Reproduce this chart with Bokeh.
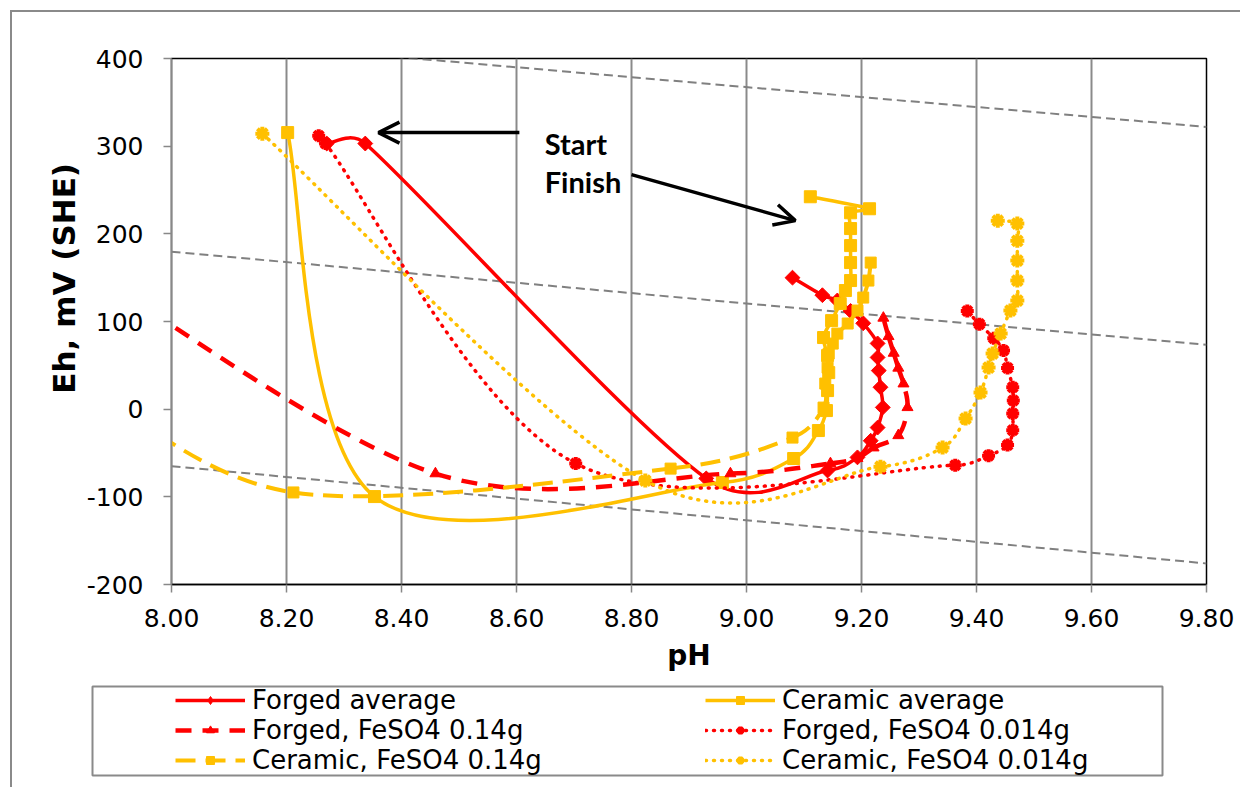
import math
from bokeh.plotting import figure
from bokeh.layouts import column, row
from bokeh.models import (Range1d, FixedTicker, NumeralTickFormatter, Legend, LegendItem,
                          Arrow, OpenHead, Label, ColumnDataSource)
from bokeh.embed import file_html
from bokeh.resources import INLINE

# ---------------- data ----------------
forged_avg_ph = [8.270, 8.337, 8.930, 9.141, 9.193, 9.216, 9.228, 9.237, 9.233, 9.230,
                 9.228, 9.228, 9.203, 9.181, 9.158, 9.132, 9.080]
forged_avg_eh = [303, 303, -79, -70, -55, -36, -21, 2, 25, 44,
                 59, 75, 98, 112, 124, 130, 150]

ceramic_avg_ph = [8.202, 8.353, 8.958, 9.082, 9.125, 9.139, 9.141, 9.143, 9.141, 9.134,
                  9.148, 9.163, 9.172, 9.181, 9.181, 9.181, 9.181, 9.181, 9.214, 9.111]
ceramic_avg_eh = [315.5, -99.7, -83.7, -56.3, -24.4, -1.6, 21.2, 41.7, 61.1, 81.7,
                  101, 120.4, 135.3, 146.7, 167.2, 186.6, 206, 224, 228.6, 242.3]

forged_014_ph = [7.85, 8.459, 8.972, 9.146, 9.193, 9.221, 9.264, 9.280, 9.273, 9.264,
                 9.256, 9.247, 9.238]
forged_014_eh = [160, -73.5, -73.5, -62, -56, -44, -30, 2, 29, 47,
                 64, 83, 104]

forged_0014_ph = [8.256, 8.268, 8.703, 9.363, 9.421, 9.454, 9.463, 9.463, 9.464, 9.463,
                  9.454, 9.447, 9.430, 9.405, 9.384]
forged_0014_eh = [312, 303, -62, -64, -53, -41, -24, -5, 10, 25,
                  47, 67, 81, 97, 112]

ceramic_014_ph = [7.85, 8.212, 8.868, 9.080, 9.134, 9.137, 9.141, 9.143, 9.150, 9.158,
                  9.176, 9.193, 9.203, 9.212, 9.216]
ceramic_014_eh = [30, -95, -67.8, -32.4, 1.8, 29.2, 47.4, 63.4, 74.8, 86.2,
                  97.7, 112.5, 127.3, 146.7, 167.2]

ceramic_0014_ph = [8.158, 8.824, 9.233, 9.341, 9.381, 9.407, 9.421, 9.428, 9.442, 9.459,
                   9.471, 9.471, 9.471, 9.471, 9.471, 9.437]
ceramic_0014_eh = [314.2, -81.4, -65.6, -43.8, -10.7, 18.9, 47.4, 63.4, 86.2, 112.5,
                   123.9, 146.7, 169.5, 192, 211.7, 215]

# grey dashed reference lines (Eh at pH 8.0 and 9.8)
ref_ph = [8.0, 9.8]
ref_lines_eh = [[424, 322], [179.5, 73.5], [-65, -176]]

x_ticks = [8.0, 8.2, 8.4, 8.6, 8.8, 9.0, 9.2, 9.4, 9.6, 9.8]
y_ticks = [-200, -100, 0, 100, 200, 300, 400]

labels = ["Forged average", "Ceramic average", "Forged, FeSO4 0.14g",
          "Forged, FeSO4 0.014g", "Ceramic, FeSO4 0.14g", "Ceramic, FeSO4 0.014g"]

# ---------------- layout ----------------
RED = "#FF0000"
GOLD = "#FFC000"
W, H = 1240, 682
BL, BR, BT, BB = 171, 34, 58, 98
X0, X1, Y0, Y1 = 8.0, 9.8, -200, 400
KX = (W - BL - BR) / (X1 - X0)
KY = (H - BT - BB) / (Y1 - Y0)

FONT = "DejaVu Sans"
DOT = "1 7"


def smooth_source(xs, ys):
    """Bezier control points for a smoothed line through the data points."""
    P = [(x * KX, y * KY) for x, y in zip(xs, ys)]
    n = len(P)
    d = {k: [] for k in ("x0", "y0", "x1", "y1", "cx0", "cy0", "cx1", "cy1")}
    for i in range(n - 1):
        p0 = P[i - 1] if i > 0 else P[i]
        p1, p2 = P[i], P[i + 1]
        p3 = P[i + 2] if i + 2 < n else P[i + 1]
        seg = math.hypot(p2[0] - p1[0], p2[1] - p1[1])

        def clamp(vx, vy):
            m = math.hypot(vx, vy)
            lim = 0.5 * seg
            if m > lim and m > 0:
                s = lim / m
                return vx * s, vy * s
            return vx, vy

        v1 = clamp((p2[0] - p0[0]) / 6, (p2[1] - p0[1]) / 6)
        v2 = clamp((p3[0] - p1[0]) / 6, (p3[1] - p1[1]) / 6)
        d["x0"].append(xs[i]); d["y0"].append(ys[i])
        d["x1"].append(xs[i + 1]); d["y1"].append(ys[i + 1])
        d["cx0"].append((p1[0] + v1[0]) / KX); d["cy0"].append((p1[1] + v1[1]) / KY)
        d["cx1"].append((p2[0] - v2[0]) / KX); d["cy1"].append((p2[1] - v2[1]) / KY)
    return ColumnDataSource(d)


p = figure(width=W, height=H, x_range=Range1d(X0, X1), y_range=Range1d(Y0, Y1),
           output_backend="svg", toolbar_location=None,
           min_border_left=BL, min_border_right=BR, min_border_top=BT, min_border_bottom=BB)
p.background_fill_color = "white"
p.border_fill_alpha = 0
p.outline_line_color = "black"
p.outline_line_width = 1.5

p.ygrid.visible = False
p.xgrid.grid_line_color = "#8a8a8a"
p.xgrid.grid_line_width = 2

p.xaxis.ticker = FixedTicker(ticks=x_ticks)
p.yaxis.ticker = FixedTicker(ticks=y_ticks)
p.xaxis.formatter = NumeralTickFormatter(format="0.00")
p.yaxis.formatter = NumeralTickFormatter(format="0")
for ax in (p.xaxis, p.yaxis):
    ax.major_label_text_font = FONT
    ax.major_label_text_font_size = "25px"
    ax.major_label_text_color = "black"
    ax.minor_tick_line_color = None
    ax.major_tick_in = 0
    ax.major_tick_out = 8
    ax.major_tick_line_color = "#888888"
    ax.major_tick_line_width = 1.5
    ax.axis_label_text_font = FONT
    ax.axis_label_text_font_style = "bold"
    ax.axis_label_text_color = "black"
p.xaxis.axis_label_text_font_size = "28px"
p.yaxis.axis_label_text_font_size = "31px"
p.yaxis.axis_line_color = "#888888"
p.yaxis.axis_line_width = 1.5
p.xaxis.axis_line_color = "black"
p.xaxis.axis_line_width = 1.5
p.yaxis.major_label_standoff = 20
p.xaxis.major_label_standoff = 16
p.xaxis.axis_label = "pH"
p.yaxis.axis_label = "\u00a0" * 8 + "Eh, mV (SHE)"
p.xaxis.axis_label_standoff = 9
p.yaxis.axis_label_standoff = 2

# reference lines
for eh in ref_lines_eh:
    p.line(ref_ph, eh, line_color="#808080", line_width=2, line_dash="9 5")

# (x, y, colour, dash, line width, marker, size, angle, marker line width)
series = [
    (forged_avg_ph, forged_avg_eh, RED, "solid", 3.5, "square", 10.5, 0.785, 1),
    (ceramic_avg_ph, ceramic_avg_eh, GOLD, "solid", 3.5, "square", 12, 0, 1),
    (forged_014_ph, forged_014_eh, RED, "16 11", 4.5, "triangle", 11, 0, 1),
    (forged_0014_ph, forged_0014_eh, RED, DOT, 3.5, "asterisk", 13, 0, 4),
    (ceramic_014_ph, ceramic_014_eh, GOLD, "20 10", 4, "square", 11, 0, 1),
    (ceramic_0014_ph, ceramic_0014_eh, GOLD, DOT, 3.5, "asterisk", 14, 0, 4),
]

for (xs, ys, col, dash, lw, mk, ms, ang, mlw) in series:
    src = smooth_source(xs, ys)
    p.bezier(x0="x0", y0="y0", x1="x1", y1="y1", cx0="cx0", cy0="cy0",
             cx1="cx1", cy1="cy1", source=src, line_color=col, line_width=lw,
             line_dash=dash, line_cap="round" if dash == DOT else "butt")
    p.scatter(xs, ys, marker=mk, size=ms, angle=ang, fill_color=col,
              line_color=col, line_width=mlw)

# annotations
p.add_layout(Arrow(end=OpenHead(size=21, line_width=3.5, line_color="black"),
                   x_start=8.605, y_start=315.5, x_end=8.36, y_end=315.5,
                   line_width=3.5, line_color="black"))
p.add_layout(Arrow(end=OpenHead(size=21, line_width=3.5, line_color="black"),
                   x_start=8.80, y_start=267.6, x_end=9.085, y_end=215.1,
                   line_width=3.5, line_color="black"))
for txt, yy in (("Start", 303), ("Finish", 259.5)):
    p.add_layout(Label(x=8.649, y=yy, text=txt, text_font="Lato", text_font_style="bold",
                       text_font_size="29px", text_color="black",
                       text_baseline="alphabetic", text_align="left"))

# ---------------- legend panel ----------------
LH = 105
pl = figure(width=W, height=LH, x_range=Range1d(0, 1), y_range=Range1d(0, 1),
            output_backend="svg", toolbar_location=None,
            x_axis_location=None, y_axis_location=None,
            min_border_left=92, min_border_right=W - 1162, min_border_top=4,
            min_border_bottom=LH - 4 - 89)
pl.grid.visible = False
pl.outline_line_color = "#8a8a8a"
pl.outline_line_width = 2
pl.background_fill_color = "white"
pl.border_fill_alpha = 0

# legend swatch markers: (marker, size)
legend_markers = [("diamond", 15), ("square", 10), ("triangle", 10),
                  ("asterisk", 11), ("square", 10), ("asterisk", 12)]
items = []
for (xs, ys, col, dash, lw, mk, ms, ang, mlw), lab, (lmk, lms) in zip(series, labels, legend_markers):
    # off-range sample renderers: only used to draw the legend swatches
    lr = pl.line([-5, -4], [-5, -5], line_color=col, line_width=lw, line_dash=dash,
                 line_cap="round" if dash == DOT else "butt")
    sr = pl.scatter([-5], [-5], marker=lmk, size=lms, fill_color=col,
                    line_color=col, line_width=min(mlw, 3))
    items.append(LegendItem(label=lab, renderers=[lr, sr]))

legend = Legend(items=[items[0], items[2], items[4], items[1], items[3], items[5]],
                location=(83, 0), orientation="vertical", ncols=2)
legend.glyph_width = 70
legend.glyph_height = 20
legend.label_standoff = 7
legend.label_width = 453
legend.label_height = 28
legend.spacing = 0
legend.padding = 0
legend.margin = 0
legend.border_line_alpha = 0
legend.background_fill_alpha = 0
legend.label_text_font = FONT
legend.label_text_font_size = "26px"
legend.label_text_color = "black"
pl.add_layout(legend, "center")

layout = column(p, row(pl), styles={
    "background-color": "white",
    "box-shadow": "inset 10px 10px 0 0 white, inset 12px 12px 0 0 #8a8a8a",
})

open("out.html", "w").write(file_html(layout, INLINE))
